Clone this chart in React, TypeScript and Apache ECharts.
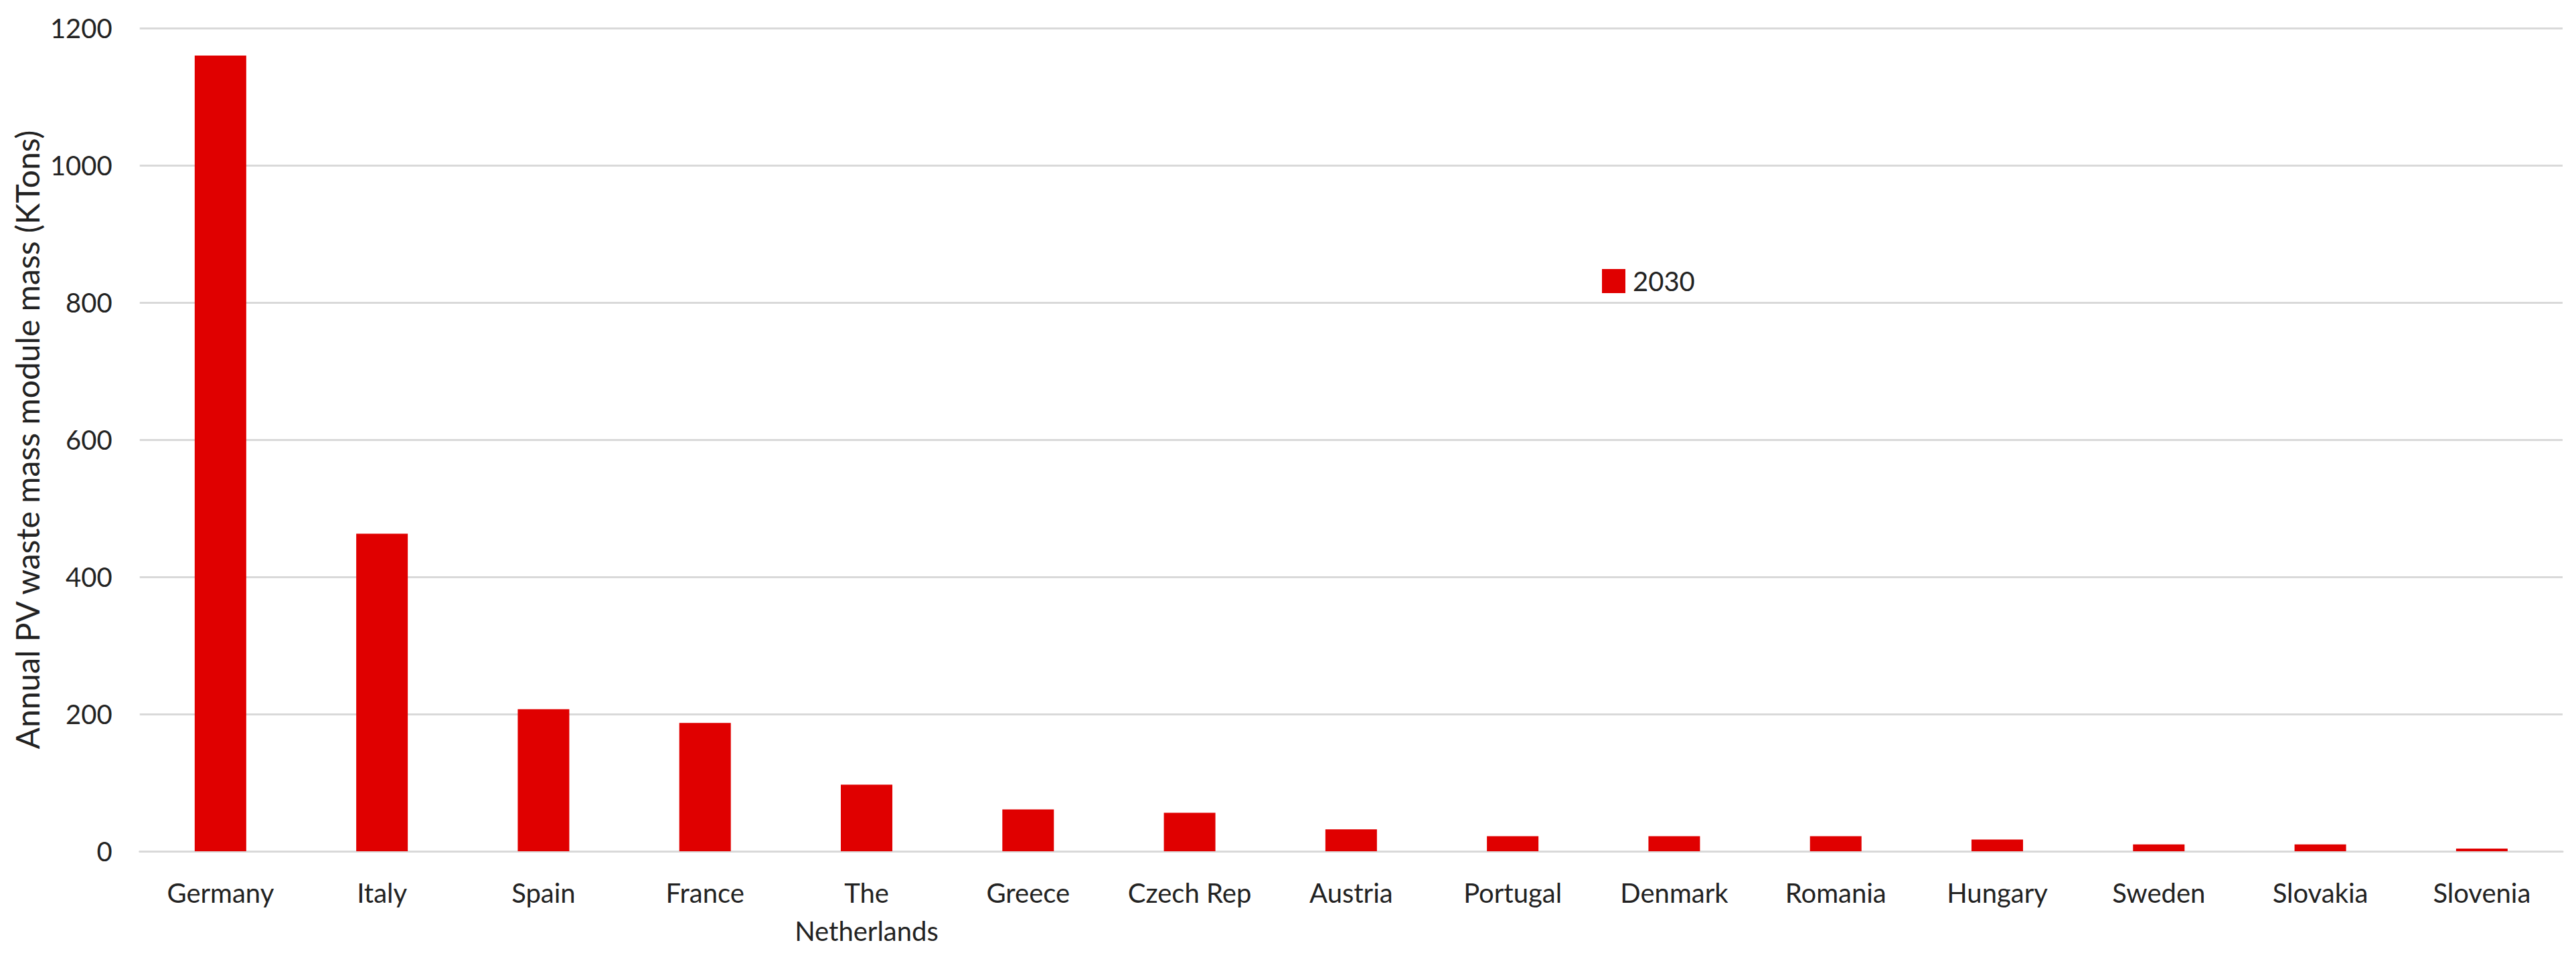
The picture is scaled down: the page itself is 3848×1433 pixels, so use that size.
import React, { useEffect, useRef } from "react";
import * as echarts from "echarts";

const categories = [
  "Germany", "Italy", "Spain", "France", "The\nNetherlands", "Greece", "Czech Rep",
  "Austria", "Portugal", "Denmark", "Romania", "Hungary", "Sweden", "Slovakia", "Slovenia",
];
const values2030 = [1160, 463, 207, 187, 97, 61, 56, 32, 22, 22, 22, 17, 10, 10, 4];
const yTicks = { min: 0, max: 1200, interval: 200 };
const seriesName = "2030";
const yTitle = "Annual PV waste mass module mass (KTons)";

const FONT = "Lato, 'Open Sans', sans-serif";
const RED = "#E00000";
const GRID = "#D9D9D9";

export default function App() {
  const ref = useRef<HTMLDivElement>(null);
  useEffect(() => {
    if (!ref.current) return;
    const chart = echarts.init(ref.current, null, { renderer: "svg" });
    chart.setOption({
      animation: false,
      backgroundColor: "#ffffff",
      textStyle: { fontFamily: FONT },
      grid: { left: 192, right: 12, top: 34, bottom: 153, containLabel: false },
      legend: {
        show: true,
        left: 2385,
        top: 392,
        padding: 0,
        itemWidth: 35,
        itemHeight: 36,
        icon: "rect",
        data: [seriesName],
        textStyle: { fontFamily: FONT, fontSize: 40, color: "#222", padding: [0, 0, 0, 6] },
      },
      xAxis: {
        type: "category",
        data: categories,
        axisTick: { show: false },
        axisLine: { lineStyle: { color: GRID, width: 3 } },
        axisLabel: {
          interval: 0,
          margin: 33,
          fontFamily: FONT,
          fontSize: 40,
          lineHeight: 57,
          color: "#222",
        },
      },
      yAxis: {
        type: "value",
        min: yTicks.min,
        max: yTicks.max,
        interval: yTicks.interval,
        name: yTitle,
        nameLocation: "middle",
        nameGap: 130,
        nameTextStyle: { fontFamily: FONT, fontSize: 48, color: "#222" },
        axisLine: { show: false },
        axisTick: { show: false },
        splitLine: { lineStyle: { color: GRID, width: 3 } },
        axisLabel: {
          margin: 41,
          fontFamily: FONT,
          fontSize: 40,
          color: "#222",
          formatter: (v: number) => String(v),
        },
      },
      series: [
        {
          name: seriesName,
          type: "bar",
          data: values2030,
          barWidth: 77,
          itemStyle: { color: RED },
        },
      ],
    });
    return () => chart.dispose();
  }, []);
  return <div ref={ref} style={{ width: 3832, height: 1417 }} />;
}
